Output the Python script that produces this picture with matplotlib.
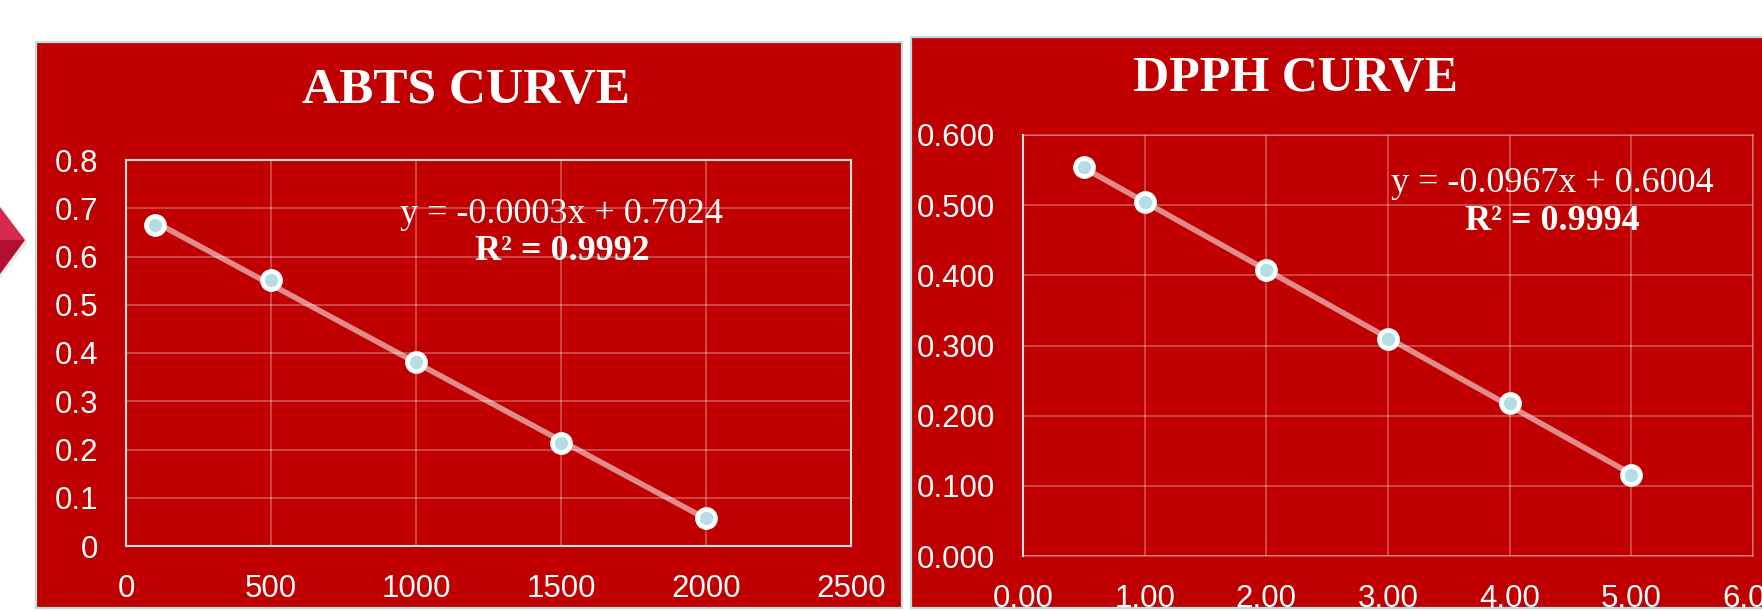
import numpy as np
import matplotlib
matplotlib.use("Agg")
import matplotlib.pyplot as plt
from matplotlib.patches import Rectangle, Polygon

# ---------------- data ----------------
abts_x = [100, 500, 1000, 1500, 2000]
abts_y = [0.665, 0.551, 0.381, 0.213, 0.058]
abts_xticks = [0, 500, 1000, 1500, 2000, 2500]
abts_yticks = [0, 0.1, 0.2, 0.3, 0.4, 0.5, 0.6, 0.7, 0.8]
abts_ytick_labels = ["0", "0.1", "0.2", "0.3", "0.4", "0.5", "0.6", "0.7", "0.8"]
abts_title = "ABTS CURVE"
abts_eq = "y = -0.0003x + 0.7024"
abts_r2 = "R² = 0.9992"

dpph_x = [0.5, 1, 2, 3, 4, 5]
dpph_y = [0.554, 0.504, 0.407, 0.309, 0.218, 0.115]
dpph_xticks = [0, 1, 2, 3, 4, 5, 6]
dpph_xtick_labels = ["0.00", "1.00", "2.00", "3.00", "4.00", "5.00", "6.00"]
dpph_yticks = [0, 0.1, 0.2, 0.3, 0.4, 0.5, 0.6]
dpph_ytick_labels = ["0.000", "0.100", "0.200", "0.300", "0.400", "0.500", "0.600"]
dpph_title = "DPPH CURVE"
dpph_eq = "y = -0.0967x + 0.6004"
dpph_r2 = "R² = 0.9994"

# ---------------- style ----------------
W, H = 1762, 611
RED = "#C00000"
BORDER = "#BFDDE3"
SERIF = ["Liberation Serif", "DejaVu Serif"]
SANS = ["Liberation Sans", "DejaVu Sans"]

fig = plt.figure(figsize=(W / 100, H / 100), dpi=100)
fig.patch.set_facecolor("white")


def fx(px):
    return px / W


def fy(py):
    return 1 - py / H


# panel backgrounds
fig.patches.append(Rectangle((fx(36), fy(608)), fx(902) - fx(36), fy(42) - fy(608),
                             transform=fig.transFigure, facecolor=RED,
                             edgecolor=BORDER, linewidth=1.6, zorder=-10))
fig.patches.append(Rectangle((fx(911), fy(608)), fx(1800) - fx(911), fy(37) - fy(608),
                             transform=fig.transFigure, facecolor=RED,
                             edgecolor=BORDER, linewidth=1.6, zorder=-10))

# decorative arrow at left
fig.patches.append(Polygon([(fx(0), fy(212)), (fx(28), fy(243)), (fx(0), fy(278))],
                           closed=True, transform=fig.transFigure,
                           facecolor="#D9D9D9", edgecolor="none", alpha=0.6, zorder=-10))
fig.patches.append(Polygon([(fx(0), fy(207)), (fx(25), fy(240)), (fx(0), fy(240))],
                           closed=True, transform=fig.transFigure,
                           facecolor="#D42A50", edgecolor="none", zorder=-10))
fig.patches.append(Polygon([(fx(0), fy(240)), (fx(25), fy(240)), (fx(0), fy(274))],
                           closed=True, transform=fig.transFigure,
                           facecolor="#B30F30", edgecolor="none", zorder=-10))


def style_axes(ax, xlim, ylim, xticks, yticks, xlabels, ylabels, border_all):
    ax.set_facecolor("none")
    ax.set_zorder(5)
    ax.set_xlim(*xlim)
    ax.set_ylim(*ylim)
    ax.set_xticks(xticks)
    ax.set_yticks(yticks)
    ax.set_xticklabels(xlabels, family=SANS, fontsize=22.5, color="white")
    ax.set_yticklabels(ylabels, family=SANS, fontsize=22.5, color="white")
    ax.tick_params(axis="both", length=0)
    ax.tick_params(axis="y", pad=20)
    ax.tick_params(axis="x", pad=20)
    ax.grid(True, color="white", alpha=0.35, linewidth=1.1)
    ax.set_axisbelow(True)
    for side, sp in ax.spines.items():
        if border_all:
            sp.set_color("#D5DEE2")
            sp.set_linewidth(1.5)
        else:
            if side == "left":
                sp.set_color("#D5DEE2")
                sp.set_linewidth(1.5)
            else:
                sp.set_color((1, 1, 1, 0.35))
                sp.set_linewidth(1.1)


def draw_series(ax, xs, ys):
    k, b = np.polyfit(xs, ys, 1)
    xl = np.array([min(xs), max(xs)])
    ax.plot(xl, k * xl + b, color="white", alpha=0.55, linewidth=4.0,
            solid_capstyle="butt", zorder=3)
    ax.plot(xs, ys, linestyle="none", marker="o", markersize=13,
            markerfacecolor="#B4DDE4", markeredgecolor="white",
            markeredgewidth=3.4, zorder=4, clip_on=False)


# ---------------- ABTS ----------------
ax1 = fig.add_axes([fx(126), fy(546), fx(851) - fx(126), fy(160) - fy(546)])
style_axes(ax1, (0, 2500), (0, 0.8), abts_xticks, abts_yticks,
           [str(t) for t in abts_xticks], abts_ytick_labels, True)
draw_series(ax1, abts_x, abts_y)
fig.text(fx(466), fy(91), abts_title, family=SERIF, fontweight="bold",
         fontsize=37, color="white", ha="center", va="center", zorder=10)
fig.text(fx(562), fy(214), abts_eq, family=SERIF, fontsize=26,
         color="white", ha="center", va="center", zorder=10)
fig.text(fx(562), fy(252), abts_r2, family=SERIF, fontsize=26, fontweight="bold",
         color="white", ha="center", va="center", zorder=10)

# ---------------- DPPH ----------------
ax2 = fig.add_axes([fx(1023), fy(556), fx(1753) - fx(1023), fy(135) - fy(556)])
style_axes(ax2, (0, 6), (0, 0.6), dpph_xticks, dpph_yticks,
           dpph_xtick_labels, dpph_ytick_labels, False)
draw_series(ax2, dpph_x, dpph_y)
fig.text(fx(1295), fy(79), dpph_title, family=SERIF, fontweight="bold",
         fontsize=36, color="white", ha="center", va="center", zorder=10)
fig.text(fx(1552), fy(184), dpph_eq, family=SERIF, fontsize=26,
         color="white", ha="center", va="center", zorder=10)
fig.text(fx(1552), fy(222), dpph_r2, family=SERIF, fontsize=26, fontweight="bold",
         color="white", ha="center", va="center", zorder=10)

fig.savefig("out.png", dpi=100, facecolor="white")
